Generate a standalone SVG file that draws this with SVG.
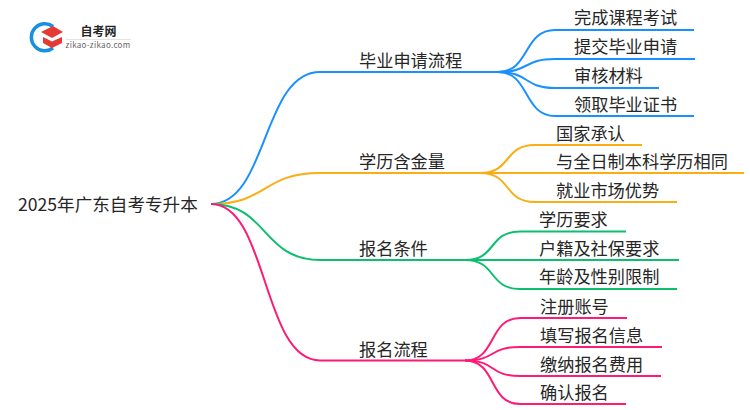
<svg xmlns="http://www.w3.org/2000/svg" width="750" height="410" viewBox="0 0 750 410">
<style>
text{font-family:"Noto Sans CJK SC","Noto Sans",sans-serif;font-size:17.200px;fill:#262626}
path{fill:none;stroke-width:2}
.b path{stroke:#1890ff}.o path{stroke:#faad14}.g path{stroke:#0bbf6f}.p path{stroke:#ff1a75}
</style>
<rect width="750" height="410" fill="#fff"/>
<g id="logo">
<path d="M53 26.500A13.500 13.500 0 1 0 53 48" style="stroke:#1890e0;stroke-width:3.500"/>
<polygon points="41,32 53,26 63,32 52,38" fill="#e53935"/>
<polygon points="43,37 52,41.500 62,37 62,43 52,48 43,43" fill="#e53935"/>
<text x="98.500" y="36" text-anchor="middle" style="font-size:12px;font-weight:700">自考网</text>
<path d="M66 39.500H131" style="stroke:#e4e4e4;stroke-width:1"/>
<text x="98" y="47.500" text-anchor="middle" style="font-size:8px;fill:#666;letter-spacing:.3px">zikao-zikao.com</text>
</g>
<g id="connectors">
<g class="b">
<path d="M211 204C268 204 262 72 320 72H498"/>
<path d="M498 72C530 72 523 30 555 30H694"/>
<path d="M498 72C530 72 523 59 555 59H695"/>
<path d="M498 72C530 72 523 88 555 88H659"/>
<path d="M498 72C530 72 523 116 555 116H694"/>
</g>
<g class="o">
<path d="M211 204C268 204 262 173 320 173H480"/>
<path d="M480 173C512 173 503 145 535 145H642"/>
<path d="M480 173H744"/>
<path d="M480 173C512 173 503 202 535 202H677"/>
</g>
<g class="g">
<path d="M211 204C268 204 262 260 320 260H465"/>
<path d="M465 260C497 260 488 231.500 520 231.500H626"/>
<path d="M465 260H679"/>
<path d="M465 260C497 260 488 289 520 289H677"/>
</g>
<g class="p">
<path d="M211 204C268 204 262 360.500 320 360.500H465"/>
<path d="M465 360.500C497 360.500 488 318 520 318H627"/>
<path d="M465 360.500C497 360.500 488 347 520 347H662"/>
<path d="M465 360.500C497 360.500 488 376 520 376H661"/>
<path d="M465 360.500C497 360.500 488 404 520 404H626"/>
</g>
</g>
<g id="root"><text x="18" y="211" style="font-size:17.600px">2025年广东自考专升本</text></g>
<g id="n1"><text x="359" y="67">毕业申请流程</text></g>
<g id="n1-1"><text x="574" y="24">完成课程考试</text></g>
<g id="n1-2"><text x="574" y="53">提交毕业申请</text></g>
<g id="n1-3"><text x="574" y="82">审核材料</text></g>
<g id="n1-4"><text x="574" y="111">领取毕业证书</text></g>
<g id="n2"><text x="359" y="168">学历含金量</text></g>
<g id="n2-1"><text x="556" y="140">国家承认</text></g>
<g id="n2-2"><text x="556" y="168">与全日制本科学历相同</text></g>
<g id="n2-3"><text x="556" y="197">就业市场优势</text></g>
<g id="n3"><text x="359" y="255">报名条件</text></g>
<g id="n3-1"><text x="539" y="226">学历要求</text></g>
<g id="n3-2"><text x="539" y="255">户籍及社保要求</text></g>
<g id="n3-3"><text x="539" y="283">年龄及性别限制</text></g>
<g id="n4"><text x="359" y="356">报名流程</text></g>
<g id="n4-1"><text x="540" y="313">注册账号</text></g>
<g id="n4-2"><text x="540" y="342">填写报名信息</text></g>
<g id="n4-3"><text x="540" y="371">缴纳报名费用</text></g>
<g id="n4-4"><text x="540" y="399">确认报名</text></g>
</svg>
